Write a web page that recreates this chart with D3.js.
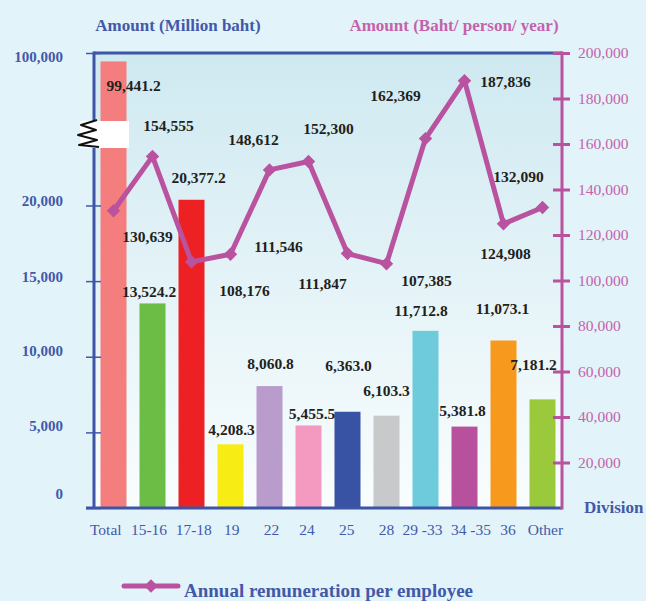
<!DOCTYPE html>
<html><head><meta charset="utf-8">
<script src="https://cdn.jsdelivr.net/npm/d3@7"></script>
<style>
html,body{margin:0;padding:0;background:#e3f3fa;}
svg{display:block;font-family:"Liberation Serif","Times New Roman",serif;}
</style></head>
<body>
<svg id="chart" width="646" height="601"></svg>
<script>
// ---- data ----
const categories = ["Total","15-16","17-18","19","22","24","25","28","29 -33","34 -35","36","Other"];
const amountMillion = [99441.2,13524.2,20377.2,4208.3,8060.8,5455.5,6363.0,6103.3,11712.8,5381.8,11073.1,7181.2];
const bahtPerPerson = [130639,154555,108176,111546,148612,152300,111847,107385,162369,187836,124908,132090];
const barColors = ["#f47d7d","#6cbd45","#ed2024","#f7ec13","#b99ccb","#f49ac1","#3953a4","#c8c9cb","#6dcbdc","#b7519d","#f7991d","#9ac93c"];
const leftTicks = [0,5000,10000,15000,20000,100000];
const rightTicks = [20000,40000,60000,80000,100000,120000,140000,160000,180000,200000];
// label layout offsets (relative to marks)
const barLabelOffset = [[20,24],[-3.5,-12],[7,-22],[1,-15],[1,-22],[3.5,-12],[1,-46],[0,-25],[-4.5,-20],[-2,-16],[-1,-32],[-9,-35]];
const lineLabelOffset = [[34,26],[16,-31],[53,29],[48,-8],[-16,-30],[20,-33],[-25,30],[40,17],[-30,-43],[41,1],[2,30],[-24,-31]];
const catLabelDx = [-7.7,-3.5,2.3,1.2,2,-1.5,-0.7,0,-3,6.5,4.5,3];
const leftTickDy = [-14,-7,-6,-4,-5,4];

const svg = d3.select("#chart");
const L = 94, R = 562, T = 53, B = 508;
const blue = "#3c55a5", magenta = "#b9529f", axisBlue = "#4259a9", pinkText = "#c463ab";

const x = d3.scaleBand().domain(categories).range([L, R]).paddingInner(1/3).paddingOuter(1/6);
const yL = d3.scaleLinear().domain([0, 23800, 95500, 100000]).range([B, 148, 121, T]);
const yR = d3.scaleLinear().domain([0, 200000]).range([B, T]);

// plot background gradient
const defs = svg.append("defs");
const g = defs.append("linearGradient").attr("id","bg").attr("x1",0).attr("y1",0).attr("x2",0).attr("y2",1);
g.append("stop").attr("offset","0%").attr("stop-color","#cfe9f1");
g.append("stop").attr("offset","100%").attr("stop-color","#f9fdfe");
svg.append("rect").attr("x",L).attr("y",T).attr("width",R-L).attr("height",B-T).attr("fill","url(#bg)");

// bars
svg.selectAll("rect.bar").data(amountMillion).join("rect").attr("class","bar")
  .attr("x",(d,i)=>x(categories[i])).attr("width",x.bandwidth())
  .attr("y",d=>yL(d)).attr("height",d=>B-yL(d))
  .attr("fill",(d,i)=>barColors[i]);

// top border
svg.append("line").attr("x1",L).attr("x2",R).attr("y1",T).attr("y2",T).attr("stroke",blue).attr("stroke-width",3);

// left axis
const leftAxis = d3.axisLeft(yL).tickValues(leftTicks).tickFormat(d3.format(",")).tickSize(0).tickPadding(31);
const la = svg.append("g").attr("transform",`translate(${L},0)`).call(leftAxis);
la.select(".domain").remove();
la.selectAll("text").attr("fill",axisBlue).attr("font-weight","bold").attr("font-size","15px")
  .attr("font-family","Liberation Serif").attr("dy","0.32em")
  .attr("transform",(d,i)=>`translate(0,${leftTickDy[i]})`);
la.selectAll(".tick").append("line").attr("x1",-8).attr("x2",7).attr("stroke",axisBlue).attr("stroke-width",1.5);
svg.append("line").attr("x1",L).attr("x2",L).attr("y1",T-1.5).attr("y2",B).attr("stroke",blue).attr("stroke-width",3);
svg.append("line").attr("x1",L-8).attr("x2",R).attr("y1",B).attr("y2",B).attr("stroke",blue).attr("stroke-width",3);

// right axis
const rightAxis = d3.axisRight(yR).tickValues(rightTicks).tickFormat(d3.format(",")).tickSize(0).tickPadding(16);
const ra = svg.append("g").attr("transform",`translate(${R},0)`).call(rightAxis);
ra.select(".domain").remove();
ra.selectAll("text").attr("fill",pinkText).attr("font-size","15.5px").attr("font-family","Liberation Serif");
ra.selectAll(".tick").append("line").attr("x1",-9).attr("x2",8).attr("stroke",magenta).attr("stroke-width",3);
svg.append("line").attr("x1",R).attr("x2",R).attr("y1",T-1.5).attr("y2",B+1.5).attr("stroke",magenta).attr("stroke-width",3);

// axis break
svg.append("rect").attr("x",80).attr("y",121).attr("width",49).attr("height",27).attr("fill","#ffffff");
svg.append("path").attr("d","M97,120 L81,125 L96,130 L78,135 L97,140 L79,145 L99,147")
  .attr("fill","none").attr("stroke","#111").attr("stroke-width",2).attr("stroke-linejoin","round");

// category labels
svg.selectAll("text.cat").data(categories).join("text").attr("class","cat")
  .attr("x",(d,i)=>x(d)+x.bandwidth()/2+catLabelDx[i]).attr("y",535).attr("text-anchor","middle")
  .attr("fill",axisBlue).attr("font-size","15.5px").text(d=>d);

// line
const cx = i => x(categories[i]) + x.bandwidth()/2;
const line = d3.line().x((d,i)=>cx(i)).y(d=>yR(d));
svg.append("path").datum(bahtPerPerson).attr("d",line).attr("fill","none")
  .attr("stroke",magenta).attr("stroke-width",5).attr("stroke-linejoin","round");
const diamond = d3.symbol().type(d3.symbolSquare).size(90);
svg.selectAll("path.mk").data(bahtPerPerson).join("path").attr("class","mk")
  .attr("d",diamond).attr("fill",magenta)
  .attr("transform",(d,i)=>`translate(${cx(i)},${yR(d)}) rotate(45)`);

// bar labels
const fmt1 = d3.format(",.1f"), fmt0 = d3.format(",");
svg.selectAll("text.bl").data(amountMillion).join("text").attr("class","bl")
  .attr("x",(d,i)=>cx(i)+barLabelOffset[i][0]).attr("y",(d,i)=>yL(d)+barLabelOffset[i][1])
  .attr("dy","0.35em").attr("text-anchor","middle").attr("font-weight","bold")
  .attr("font-size","15.5px").attr("fill","#231f20").text(d=>fmt1(d));
// line labels
svg.selectAll("text.ll").data(bahtPerPerson).join("text").attr("class","ll")
  .attr("x",(d,i)=>cx(i)+lineLabelOffset[i][0]).attr("y",(d,i)=>yR(d)+lineLabelOffset[i][1])
  .attr("dy","0.35em").attr("text-anchor","middle").attr("font-weight","bold")
  .attr("font-size","15.5px").attr("fill","#231f20").text(d=>fmt0(d));

// titles
svg.append("text").attr("x",178).attr("y",31).attr("text-anchor","middle").attr("font-weight","bold")
  .attr("font-size","17px").attr("fill",axisBlue).text("Amount (Million baht)");
svg.append("text").attr("x",454).attr("y",31).attr("text-anchor","middle").attr("font-weight","bold")
  .attr("font-size","17px").attr("fill",pinkText).text("Amount (Baht/ person/ year)");
svg.append("text").attr("x",584).attr("y",513).attr("font-weight","bold")
  .attr("font-size","17px").attr("fill",axisBlue).text("Division");

// legend
svg.append("line").attr("x1",124).attr("x2",178).attr("y1",586).attr("y2",586).attr("stroke",magenta).attr("stroke-width",5).attr("stroke-linecap","round");
svg.append("path").attr("d",diamond).attr("fill",magenta).attr("transform","translate(151,586) rotate(45)");
svg.append("text").attr("x",184).attr("y",597).attr("font-weight","bold").attr("font-size","19px")
  .attr("fill",axisBlue).text("Annual remuneration per employee");
</script>
</body></html>
